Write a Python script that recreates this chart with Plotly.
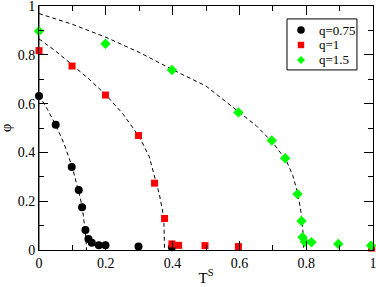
import plotly.graph_objects as go

# Data points
x_q075 = [0.0, 0.05, 0.098, 0.119, 0.129, 0.139, 0.148, 0.158, 0.179, 0.199, 0.298, 0.398]
y_q075 = [0.631, 0.513, 0.340, 0.246, 0.175, 0.082, 0.045, 0.030, 0.019, 0.019, 0.014, 0.011]

x_q1 = [0.0, 0.099, 0.199, 0.298, 0.346, 0.376, 0.398, 0.418, 0.497, 0.597, 0.996]
y_q1 = [0.817, 0.754, 0.635, 0.469, 0.274, 0.129, 0.025, 0.019, 0.018, 0.014, 0.008]

x_q15 = [0.0, 0.199, 0.398, 0.597, 0.697, 0.737, 0.774, 0.786, 0.789, 0.796, 0.816, 0.896, 0.994]
y_q15 = [0.897, 0.845, 0.738, 0.564, 0.449, 0.376, 0.229, 0.119, 0.052, 0.034, 0.032, 0.025, 0.018]

# Dashed fit curves
fx_q075 = [0.0, 0.025, 0.05, 0.075, 0.1, 0.115, 0.125, 0.133, 0.138, 0.141, 0.142]
fy_q075 = [0.634, 0.577, 0.513, 0.436, 0.338, 0.265, 0.205, 0.14, 0.09, 0.04, 0.0]

fx_q1 = [0.0, 0.05, 0.1, 0.15, 0.2, 0.25, 0.3, 0.33, 0.35, 0.36, 0.37, 0.374, 0.376]
fy_q1 = [0.865, 0.815, 0.758, 0.700, 0.636, 0.560, 0.465, 0.383, 0.280, 0.230, 0.160, 0.110, 0.0]

fx_q15 = [0.0, 0.1, 0.2, 0.3, 0.4, 0.5, 0.6, 0.65, 0.7, 0.74, 0.76, 0.775, 0.785, 0.79, 0.792]
fy_q15 = [0.969, 0.925, 0.872, 0.810, 0.739, 0.672, 0.564, 0.510, 0.440, 0.368, 0.305, 0.230, 0.150, 0.080, 0.0]

series_names = ["q=0.75", "q=1", "q=1.5"]
series_colors = ["black", "#ff0000", "#00ff00"]

x_ticks = [0, 0.2, 0.4, 0.6, 0.8, 1]
y_ticks = [0, 0.2, 0.4, 0.6, 0.8, 1]
x_ticklabels = ["0", "0.2", "0.4", "0.6", "0.8", "1"]
y_ticklabels = ["0", "0.2", "0.4", "0.6", "0.8", "1"]

FONT = "Liberation Serif"

fig = go.Figure()

for fx, fy in [(fx_q075, fy_q075), (fx_q1, fy_q1), (fx_q15, fy_q15)]:
    fig.add_trace(go.Scatter(x=fx, y=fy, mode="lines", showlegend=False,
                             line=dict(color="black", width=1, dash="4px,3px"),
                             hoverinfo="skip"))

fig.add_trace(go.Scatter(x=x_q075, y=y_q075, mode="markers", name=series_names[0],
                         marker=dict(symbol="circle", size=8, color=series_colors[0]),
                         cliponaxis=False, showlegend=False))
fig.add_trace(go.Scatter(x=x_q1, y=y_q1, mode="markers", name=series_names[1],
                         marker=dict(symbol="square", size=7, color=series_colors[1]),
                         cliponaxis=False, showlegend=False))
fig.add_trace(go.Scatter(x=x_q15, y=y_q15, mode="markers", name=series_names[2],
                         marker=dict(symbol="diamond", size=8, color=series_colors[2]),
                         cliponaxis=False, showlegend=False))

axis_common = dict(
    range=[0, 1], showgrid=False, zeroline=False, automargin=False,
    showline=True, linecolor="black", linewidth=1, mirror="allticks",
    ticks="inside", ticklen=9, tickwidth=1, tickcolor="black",
    minor=dict(ticks="inside", ticklen=5, dtick=0.1, tickcolor="black", tickwidth=1),
    tickfont=dict(family=FONT, size=14, color="black"),
    ticklabeloverflow="allow",
)

fig.update_xaxes(**axis_common, tickvals=x_ticks, ticktext=x_ticklabels,
                 title=dict(text="T<sup>S</sup>", font=dict(family=FONT, size=15, color="black"),
                            standoff=2))
fig.update_yaxes(**axis_common, tickvals=y_ticks, ticktext=y_ticklabels)

# y-axis title
fig.add_annotation(text="φ", xref="paper", yref="paper", x=-0.098, y=0.5,
                   xanchor="center", yanchor="middle", textangle=-90, showarrow=False,
                   font=dict(family=FONT, size=15, color="black"))

fig.add_shape(type="line", xref="paper", yref="paper", x0=0, x1=0, y0=0, y1=1,
              line=dict(color="#8a8a8a", width=2), layer="below")

# legend frame
fig.add_shape(type="rect", xref="paper", yref="paper", x0=0.7425, x1=0.952,
              y0=0.738, y1=0.947, line=dict(color="black", width=1),
              fillcolor="white", layer="below")

# legend entries
leg_sym_x = 0.7844
leg_txt_x = 0.8323
leg_rows = [0.9016, 0.8402, 0.7787]
sym_paths = [None, None, "M0,4 L4,0 L0,-4 L-4,0 Z"]
for i, (name, col, ry) in enumerate(zip(series_names, series_colors, leg_rows)):
    if i == 0:
        fig.add_shape(type="circle", xref="paper", yref="paper", xsizemode="pixel",
                      ysizemode="pixel", xanchor=leg_sym_x, yanchor=ry,
                      x0=-3.8, x1=3.8, y0=-3.8, y1=3.8, fillcolor=col,
                      line=dict(width=0))
    elif i == 1:
        fig.add_shape(type="rect", xref="paper", yref="paper", xsizemode="pixel",
                      ysizemode="pixel", xanchor=leg_sym_x, yanchor=ry,
                      x0=-3.2, x1=3.2, y0=-3.2, y1=3.2, fillcolor=col, line=dict(width=0))
    else:
        fig.add_shape(type="path", xref="paper", yref="paper", xsizemode="pixel",
                      ysizemode="pixel", xanchor=leg_sym_x, yanchor=ry,
                      path=sym_paths[i], fillcolor=col, line=dict(width=0))
    fig.add_annotation(text=name, xref="paper", yref="paper", x=leg_txt_x, y=ry,
                       xanchor="left", yanchor="middle", showarrow=False,
                       font=dict(family=FONT, size=13, color="black"))

fig.update_layout(
    width=376, height=287,
    margin=dict(l=39, r=3, t=6, b=37),
    plot_bgcolor="white", paper_bgcolor="white",
    showlegend=False,
)

fig.write_html("out.html", config={"displayModeBar": False},
               post_script="document.body.style.margin='0';document.body.style.padding='0';")
